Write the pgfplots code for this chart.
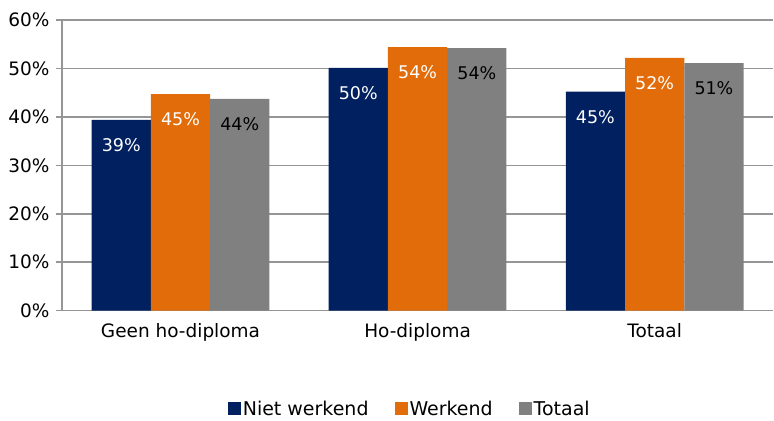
\documentclass[border=0pt]{standalone}
\usepackage{pgfplots}
\pgfplotsset{compat=1.18}
\usepackage{fontspec}
\setmainfont{DejaVu Sans}
\definecolor{navy}{RGB}{0,32,96}
\definecolor{orng}{RGB}{227,108,10}
\definecolor{gry}{RGB}{128,128,128}
\definecolor{gridc}{RGB}{150,150,150}
\begin{document}
\begin{tikzpicture}
\begin{axis}[
  scale only axis, width=712pt, height=291pt,
  ybar=0pt, bar width=0.25,
  xmin=-0.5, xmax=2.5, ymin=0, ymax=60,
  xtick={0,1,2}, xticklabels={Geen ho-diploma, Ho-diploma, Totaal},
  ytick={0,10,...,60}, yticklabel={\pgfmathprintnumber{\tick}\%},
  ymajorgrids, grid style={gridc, line width=1.6pt},
  axis x line*=bottom, axis y line*=left,
  axis line style={gridc, line width=1.6pt, -},
  tick align=outside, major tick length=6pt,
  ytick style={gridc, line width=1.6pt}, xtick style={draw=none},
  font=\fontsize{18.5}{22}\selectfont,
  ticklabel style={font=\fontsize{18.5}{22}\selectfont},
  /pgf/number format/assume math mode=true,
  yticklabel style={xshift=-3pt},
  xticklabel style={yshift=-3pt},
  point meta=explicit symbolic,
  nodes near coords={\pgfplotspointmeta\%},
  every node near coord/.append style={anchor=center, yshift=-25pt, font=\fontsize{17.5}{21}\selectfont},
  legend style={at={(0.489,-0.337)}, anchor=center, draw=none, fill=none,
    legend columns=-1, font=\fontsize{19}{22}\selectfont,
    /tikz/every even column/.append style={column sep=24pt},
    /tikz/every odd column/.append style={column sep=0pt}},
]
\addplot[fill=navy, draw=none, bar shift=-0.25,
  legend image code/.code={\fill[navy] (0pt,-6pt) rectangle (13pt,7pt);},
  nodes near coords style={text=white}]
  coordinates {(0,39.4) [39] (1,50.1) [50] (2,45.2) [45]};
\addplot[fill=orng, draw=none, bar shift=0,
  legend image code/.code={\fill[orng] (0pt,-6pt) rectangle (13pt,7pt);},
  nodes near coords style={text=white}]
  coordinates {(0,44.7) [45] (1,54.4) [54] (2,52.2) [52]};
\addplot[fill=gry, draw=none, bar shift=0.25,
  legend image code/.code={\fill[gry] (0pt,-6pt) rectangle (13pt,7pt);},
  nodes near coords style={text=black}]
  coordinates {(0,43.7) [44] (1,54.2) [54] (2,51.1) [51]};
\legend{Niet werkend, Werkend, Totaal}
\end{axis}
\path (current axis.south west) ++(-62pt,-107pt);
\path (current axis.north east) ++(0pt,20pt);
\end{tikzpicture}
\end{document}
